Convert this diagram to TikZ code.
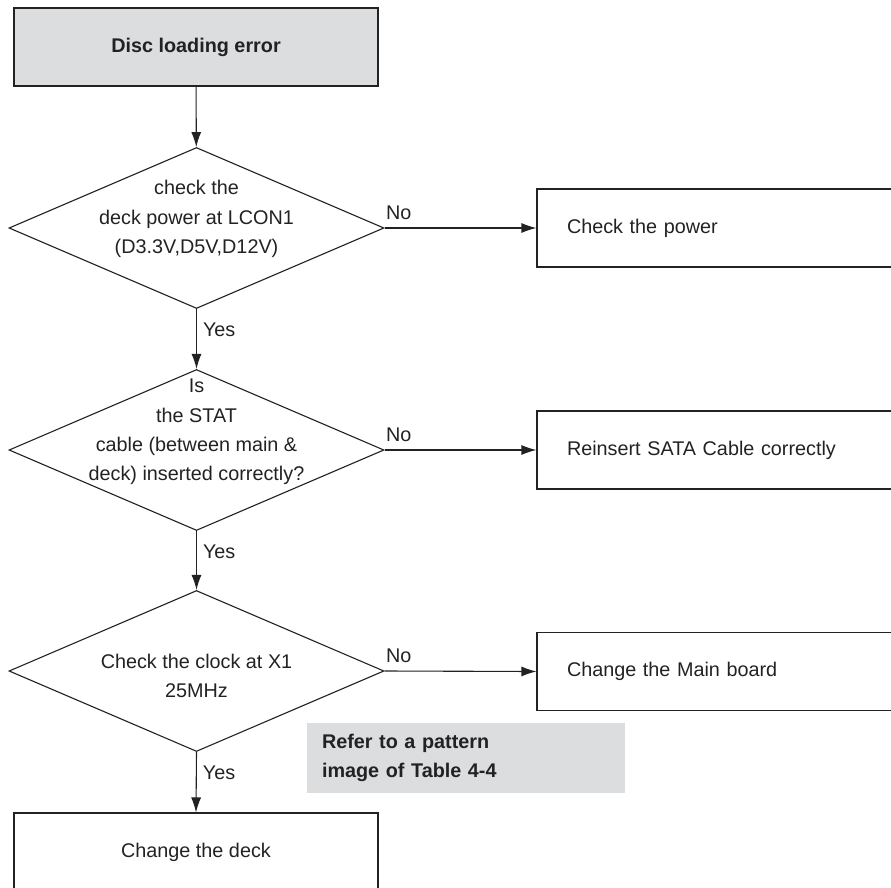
\documentclass[tikz,border=0pt]{standalone}
\usepackage{fontspec}
\setmainfont{Liberation Sans}
\usetikzlibrary{shapes.geometric,arrows.meta}
\definecolor{notegray}{RGB}{220,221,223}
\definecolor{inkgray}{RGB}{34,34,34}

\begin{document}
\begin{tikzpicture}[x=1pt, y=-1pt, line width=1.1pt, >={Latex[length=15pt,width=10pt]},
    color=inkgray, font=\fontsize{19.8}{29.3}\selectfont,
    startbox/.style={draw, fill=notegray, minimum width=364pt, minimum height=78pt, inner sep=0pt, font=\fontsize{19.8}{29.3}\selectfont\bfseries},
    endbox/.style={draw, minimum width=364pt, minimum height=78pt, inner sep=0pt},
    sidebox/.style={draw, minimum height=78pt, text width=303pt, inner xsep=30pt, inner ysep=0pt, align=left},
    decision/.style={draw, diamond, minimum width=375pt, minimum height=161pt, inner sep=0pt},
    notebox/.style={fill=notegray, minimum height=70pt, text width=288pt, inner xsep=15pt, inner ysep=0pt, align=left, font=\fontsize{19.8}{29.3}\selectfont\bfseries},
    yeslabel/.style={right, pos=0.35, inner sep=6pt},
    nolabel/.style={above right, pos=0, inner sep=1pt, yshift=7pt}]
  \clip (0,0) rectangle (891,888);
  % main column
  \node[startbox] (start) at (196,47) {\raisebox{-4pt}{Disc loading error}};
  \node[decision, label={[align=center, yshift=9pt]center:{check the\\deck power at LCON1\\(D3.3V,D5V,D12V)}}] (power) at (196.5,228) {};
  \node[decision, label={[align=center, yshift=18pt]center:{Is\\the STAT\\cable (between main \&\\deck) inserted correctly?}}] (cable) at (196.5,450) {};
  \node[decision, label={[align=center, yshift=-5pt]center:{Check the clock at X1\\25MHz}}] (clock) at (196.5,671) {};
  \node[endbox] (deck) at (196,852) {Change the deck};
  % right column
  \node[sidebox] (powerfix) at (718.5,228) {Check the power};
  \node[sidebox] (cablefix) at (718.5,450) {Reinsert SATA Cable correctly};
  \node[sidebox] (mainfix) at (718.5,671.5) {Change the Main board};
  \node[notebox] (note) at (466,758) {Refer to a pattern\\image of Table 4-4};
  % connectors
  \draw[->] (start) -- (power);
  \draw[->] (power.south) -- node[yeslabel] {Yes} (cable.north);
  \draw[->] (cable.south) -- node[yeslabel] {Yes} (clock.north);
  \draw[->] (clock.south) -- node[yeslabel] {Yes} (deck.north);
  \draw[->] (power.east) -- node[nolabel] {No} (powerfix.west);
  \draw[->] (cable.east) -- node[nolabel] {No} (cablefix.west);
  \draw[->] (clock.east) -- node[nolabel] {No} (mainfix.west);
\end{tikzpicture}
\end{document}
